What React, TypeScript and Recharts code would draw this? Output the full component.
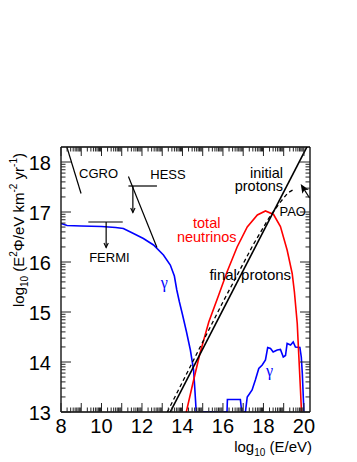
import React from "react";
import { LineChart, Line, XAxis, YAxis, ReferenceLine, ReferenceDot } from "recharts";

// gamma-ray flux (log10 E, log10 E^2 Phi)
const gammaFlux: [number, number][] = [
  [8, 16.77], [8.3, 16.73], [9, 16.72], [10, 16.71], [10.7, 16.69], [11.08, 16.67],
  [11.58, 16.57], [12.07, 16.47], [12.57, 16.34], [13.06, 16.14], [13.4, 15.94],
  [13.6, 15.72], [13.72, 15.44], [13.85, 15.2], [14.0, 14.95], [14.2, 14.6],
  [14.39, 14.24], [14.55, 13.84], [14.62, 13.4], [14.68, 13.0], [16.2, 13.0],
  [16.22, 13.25], [16.86, 13.25], [16.93, 13.0], [17.11, 13.0], [17.2, 13.3],
  [17.27, 13.34], [17.44, 13.44], [17.6, 13.64], [17.77, 13.87], [17.94, 13.94],
  [18.1, 14.04], [18.21, 14.29], [18.35, 14.27], [18.48, 14.2], [18.68, 14.24],
  [18.84, 14.25], [18.98, 14.1], [19.09, 14.13], [19.17, 14.37], [19.34, 14.34],
  [19.47, 14.4], [19.58, 14.3], [19.8, 14.29], [19.87, 14.1], [19.92, 13.77],
  [20.0, 13.0], [20.02, 12.8],
];

const neutrinoFlux: [number, number][] = [
  [14.1, 12.8], [14.19, 13.0], [14.5, 13.55], [14.85, 14.15], [15.3, 14.8],
  [15.8, 15.35], [16.2, 15.8], [16.7, 16.3], [17.2, 16.7], [17.7, 16.94],
  [18.1, 17.02], [18.5, 16.95], [18.84, 16.71], [19.17, 16.24], [19.42, 15.77],
  [19.53, 15.4], [19.67, 14.77], [19.75, 14.1], [19.83, 13.44], [19.88, 13.0],
  [19.9, 12.8],
];

const initialProtons: [number, number][] = [[13.0, 12.69], [20.35, 18.46]];

const finalProtons: [number, number][] = [
  [13.25, 13.0], [16, 15.2], [17.5, 16.35], [18.3, 16.9], [18.8, 17.18],
  [19.2, 17.38], [19.53, 17.46],
];

// experimental limits
const cgroLine: [number, number][] = [[8.29, 18.3], [8.99, 17.37]];
const hessLine: [number, number][] = [[11.33, 17.71], [12.74, 16.29]];
const hessBar: [number, number][] = [[11.33, 17.52], [12.74, 17.52]];
const fermiBar: [number, number][] = [[9.35, 16.8], [11.05, 16.8]];
const hessArrow: [number, number][] = [[11.55, 17.52], [11.55, 16.99]];
const fermiArrow: [number, number][] = [[10.23, 16.8], [10.23, 16.29]];
const paoArrow: [number, number][] = [[20.28, 17.28], [19.84, 17.56]];

type Note = { x: number; y: number; text: string; anchor: string; color: string; size: number; serif?: boolean };
const notes: Note[] = [
  { x: 8.89, y: 17.69, text: "CGRO", anchor: "start", color: "#000", size: 13 },
  { x: 12.41, y: 17.67, text: "HESS", anchor: "start", color: "#000", size: 13 },
  { x: 9.39, y: 16.0, text: "FERMI", anchor: "start", color: "#000", size: 13 },
  { x: 13.1, y: 15.48, text: "γ", anchor: "middle", color: "#0000ff", size: 16, serif: true },
  { x: 18.3, y: 13.72, text: "γ", anchor: "middle", color: "#0000ff", size: 16, serif: true },
  { x: 15.2, y: 16.69, text: "total", anchor: "middle", color: "#ff0000", size: 14.5 },
  { x: 15.2, y: 16.41, text: "neutrinos", anchor: "middle", color: "#ff0000", size: 14.5 },
  { x: 18.97, y: 17.69, text: "initial", anchor: "end", color: "#000", size: 14.5 },
  { x: 18.97, y: 17.42, text: "protons", anchor: "end", color: "#000", size: 14.5 },
  { x: 18.79, y: 16.92, text: "PAO", anchor: "start", color: "#000", size: 13 },
  { x: 15.33, y: 15.64, text: "final protons", anchor: "start", color: "#000", size: 15 },
];

const X_DOMAIN: [number, number] = [8, 20.3];
const Y_DOMAIN: [number, number] = [13, 18.3];
const xLabels = [8, 10, 12, 14, 16, 18, 20];
const xMajor = [8, 9, 10, 11, 12, 13, 14, 15, 16, 17, 18, 19, 20];
const yMajor = [13, 14, 15, 16, 17, 18];
const logSteps = [2, 3, 4, 5, 6, 7, 8, 9].map((k) => Math.log10(k));
const minorOf = (major: number[], max: number) =>
  major.flatMap((n) => logSteps.map((s) => n + s)).filter((v) => v < max);
const xMinor = minorOf(xMajor, X_DOMAIN[1]);
const yMinor = minorOf(yMajor, Y_DOMAIN[1]);

// chart box
const W = 357;
const H = 462;
const LEFT_W = 61;
const RIGHT_W = 47;
const TOP_H = 147;
const BOTTOM_H = 50;
const plot = { l: LEFT_W, r: W - RIGHT_W, t: TOP_H, b: H - BOTTOM_H };
const sx = (v: number) => plot.l + ((v - X_DOMAIN[0]) / (X_DOMAIN[1] - X_DOMAIN[0])) * (plot.r - plot.l);
const sy = (v: number) => plot.b - ((v - Y_DOMAIN[0]) / (Y_DOMAIN[1] - Y_DOMAIN[0])) * (plot.b - plot.t);

const FONT = "Liberation Sans, Arial, sans-serif";
const pts = (d: [number, number][]) => d.map(([x, y]) => ({ x, y }));
const seg = (d: [number, number][]) => d.map(([x, y]) => ({ x, y }));

// inward frame ticks, ROOT style
function FrameTicks() {
  let d = "";
  xMajor.concat(xMinor).forEach((v) => {
    const len = xMajor.includes(v) ? 9 : 4.5;
    const x = sx(v);
    d += `M${x},${plot.b}V${plot.b - len}M${x},${plot.t}V${plot.t + len}`;
  });
  yMajor.concat(yMinor).forEach((v) => {
    const len = yMajor.includes(v) ? 10 : 4.5;
    const y = sy(v);
    d += `M${plot.l},${y}H${plot.l + len}M${plot.r},${y}H${plot.r - len}`;
  });
  return (
    <svg width={W} height={H} style={{ position: "absolute", left: 0, top: 0, pointerEvents: "none" }}>
      <path d={d} stroke="#222" strokeWidth={1} fill="none" />
    </svg>
  );
}

const BottomLabel = ({ x, y, payload }: any) => (
  <text x={x} y={y + 21} textAnchor="middle" fontSize={20} fontFamily={FONT} fill="#000">
    {payload.value}
  </text>
);

const LeftLabel = ({ x, y, payload }: any) => (
  <text x={x - 10} y={y + 7.5} textAnchor="end" fontSize={20} fontFamily={FONT} fill="#000">
    {payload.value}
  </text>
);

const arrowShape = (filled: boolean, size: number) => (p: any) => {
  const { x1, y1, x2, y2 } = p;
  const a = Math.atan2(y2 - y1, x2 - x1);
  const w = filled ? 0.4 : 0.45;
  const h1 = [x2 - size * Math.cos(a - w), y2 - size * Math.sin(a - w)];
  const h2 = [x2 - size * Math.cos(a + w), y2 - size * Math.sin(a + w)];
  const notch = [x2 - size * 0.7 * Math.cos(a), y2 - size * 0.7 * Math.sin(a)];
  return (
    <g>
      <line x1={x1} y1={y1} x2={filled ? notch[0] : x2} y2={filled ? notch[1] : y2} stroke="#000" strokeWidth={1.2} />
      {filled ? (
        <polygon points={`${x2},${y2} ${h1[0]},${h1[1]} ${notch[0]},${notch[1]} ${h2[0]},${h2[1]}`} fill="#000" />
      ) : (
        <polyline points={`${h1[0]},${h1[1]} ${x2},${y2} ${h2[0]},${h2[1]}`} fill="none" stroke="#000" strokeWidth={1.1} />
      )}
    </g>
  );
};

const noteLabel = (n: Note) => (p: any) => {
  const vb = p.viewBox;
  return (
    <text
      x={vb.x}
      y={vb.y}
      textAnchor={n.anchor}
      fontSize={n.size}
      fill={n.color}
      fontFamily={n.serif ? "Liberation Serif, Times New Roman, serif" : FONT}
    >
      {n.text}
    </text>
  );
};

const XTitle = ({ viewBox }: any) => (
  <text x={viewBox.x + viewBox.width + 2} y={viewBox.y + 40} textAnchor="end" fontSize={15} fontFamily={FONT} fill="#000">
    log<tspan fontSize={10} dy={4}>10</tspan>
    <tspan dy={-4}> (E/eV)</tspan>
  </text>
);

const YTitle = ({ viewBox }: any) => (
  <text
    transform={`translate(${viewBox.x + 24},${viewBox.y + 83}) rotate(-90)`}
    textAnchor="middle"
    fontSize={15}
    fontFamily={FONT}
    fill="#000"
  >
    log<tspan fontSize={10} dy={4}>10</tspan>
    <tspan dy={-4}> (E</tspan>
    <tspan fontSize={10} dy={-7}>2</tspan>
    <tspan dy={7}>Φ/eV km</tspan>
    <tspan fontSize={10} dy={-7}>-2</tspan>
    <tspan dy={7}> yr</tspan>
    <tspan fontSize={10} dy={-7}>-1</tspan>
    <tspan dy={7}>)</tspan>
  </text>
);

const axisCommon = {
  type: "number" as const,
  allowDataOverflow: true,
  interval: 0 as const,
  tickSize: 0,
  tickMargin: 0,
  tickLine: false,
  axisLine: { stroke: "#000", strokeWidth: 1.3 },
};

export default function App() {
  return (
    <div style={{ position: "absolute", left: 0, top: 0, width: W, height: H, background: "#fff" }}>
      <LineChart width={W} height={H} margin={{ top: 0, right: 0, bottom: 0, left: 0 }}>
        <XAxis {...axisCommon} dataKey="x" domain={X_DOMAIN} ticks={xLabels} tick={BottomLabel} height={BOTTOM_H} label={{ content: XTitle }} />
        <XAxis {...axisCommon} xAxisId="top" orientation="top" dataKey="x" domain={X_DOMAIN} ticks={[]} tick={false} height={TOP_H} />
        <YAxis {...axisCommon} domain={Y_DOMAIN} ticks={yMajor} tick={LeftLabel} width={LEFT_W} label={{ content: YTitle }} />
        <YAxis {...axisCommon} yAxisId="right" orientation="right" domain={Y_DOMAIN} ticks={[]} tick={false} width={RIGHT_W} />

        <Line data={pts(gammaFlux)} dataKey="y" stroke="#0000ff" strokeWidth={1.6} dot={false} isAnimationActive={false} />
        <Line data={pts(neutrinoFlux)} dataKey="y" stroke="#ff0000" strokeWidth={1.6} dot={false} isAnimationActive={false} />
        <Line data={pts(initialProtons)} dataKey="y" stroke="#000" strokeWidth={1.6} dot={false} isAnimationActive={false} />
        <Line
          data={pts(finalProtons)}
          dataKey="y"
          stroke="#000"
          strokeWidth={1.3}
          strokeDasharray="4 3"
          dot={false}
          isAnimationActive={false}
        />

        {[cgroLine, hessLine, hessBar, fermiBar].map((d, i) => (
          <ReferenceLine key={`l${i}`} segment={seg(d)} stroke="#000" strokeWidth={1.2} ifOverflow="visible" />
        ))}
        <ReferenceLine segment={seg(hessArrow)} ifOverflow="visible" shape={arrowShape(false, 5)} />
        <ReferenceLine segment={seg(fermiArrow)} ifOverflow="visible" shape={arrowShape(false, 5)} />
        <ReferenceLine segment={seg(paoArrow)} ifOverflow="visible" shape={arrowShape(true, 10)} />

        {notes.map((n, i) => (
          <ReferenceDot
            key={`n${i}`}
            x={n.x}
            y={n.y}
            r={0}
            fill="none"
            stroke="none"
            label={{ content: noteLabel(n) }}
          />
        ))}
      </LineChart>
      <FrameTicks />
    </div>
  );
}
